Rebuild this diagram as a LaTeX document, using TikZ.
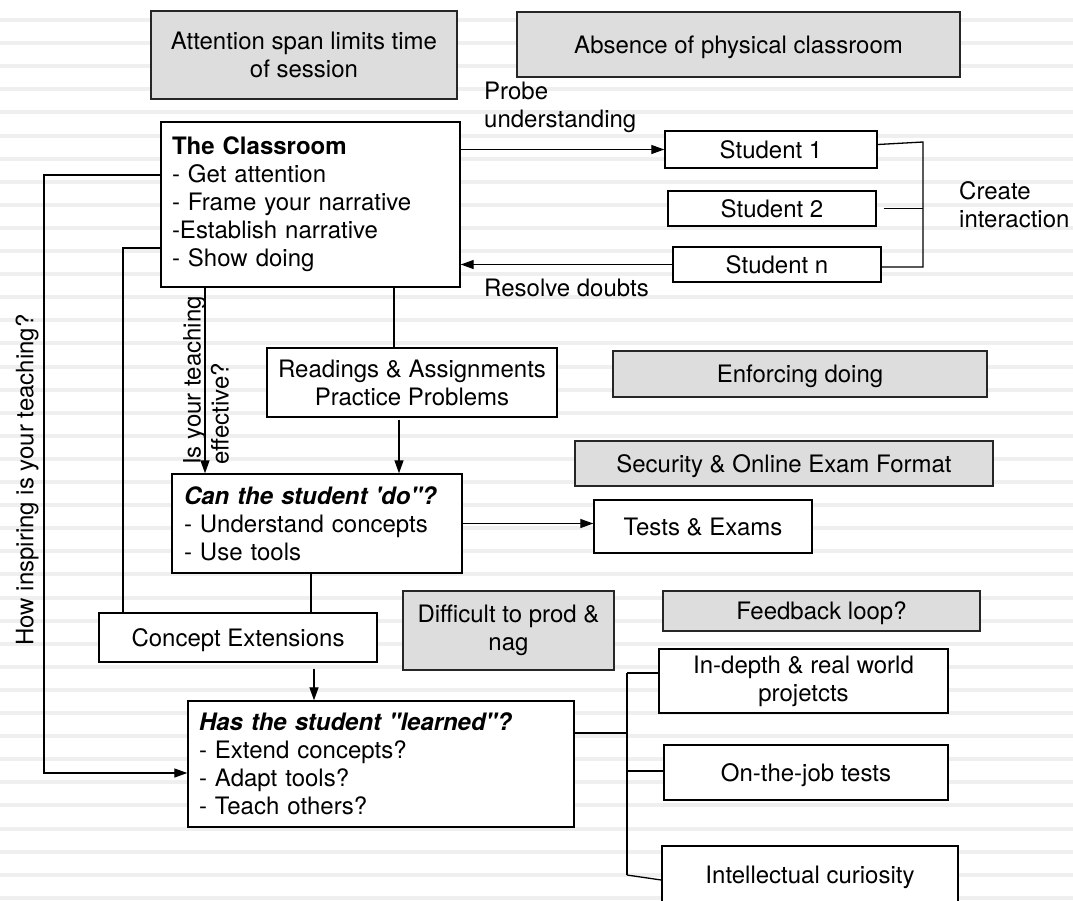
\documentclass[tikz,border=0pt]{standalone}
\usepackage{fontspec}
\setmainfont{TeX Gyre Heros}[Ligatures=TeXOff]
\usetikzlibrary{arrows.meta,calc}
\definecolor{boxgray}{HTML}{DDDDDD}
\definecolor{stripecol}{HTML}{EFEFEF}
\newcommand{\sq}{\symbol{39}}
\newcommand{\dq}{\symbol{34}}
\begin{document}
\begin{tikzpicture}[x=1pt,y=-1pt,
  every node/.style={font=\fontsize{24}{28}\selectfont, text=black},
  wbox/.style={draw=black, line width=1.4pt, fill=white, rectangle, inner sep=0pt},
  gbox/.style={draw=black!85, line width=1.4pt, fill=boxgray, rectangle, inner sep=0pt, align=center},
  sl/.style={text height=19pt, text depth=2pt},
  conn/.style={line width=1.3pt, draw=black},
  arr/.style={conn, -{Triangle[length=13pt,width=9pt]}},
  lbl/.style={inner sep=0pt, align=left}
]
\clip (0,0) rectangle (1073,900);
\fill[white] (0,0) rectangle (1073,900);
\foreach \k in {0,...,38}
  \draw[stripecol, line width=4pt] (0,{20+23.1*\k}) -- (1073,{20+23.1*\k});

% grey boxes
\node[gbox, minimum width=306pt, minimum height=88pt] (att) at (304,55) {Attention span limits time\\of session};
\node[gbox, sl, minimum width=443pt, minimum height=65pt] (abs) at (738.5,44.5) {Absence of physical classroom};
\node[gbox, sl, minimum width=374pt, minimum height=46pt] (enf) at (800,374) {Enforcing doing};
\node[gbox, sl, minimum width=418pt, minimum height=45pt] (sec) at (784,463.5) {Security \& Online Exam Format};
\node[gbox, minimum width=211pt, minimum height=79pt] (dif) at (508.5,630.5) {Difficult to prod \&\\nag};
\node[gbox, sl, minimum width=317pt, minimum height=40pt] (fb) at (821.5,611) {Feedback loop?};

% white boxes
\node[wbox, minimum width=299pt, minimum height=165pt, text width=277pt, align=left] (cls) at (310.5,204.5)
  {\textbf{The Classroom}\\- Get attention\\- Frame your narrative\\-Establish narrative\\- Show doing};
\node[wbox, sl, minimum width=212pt, minimum height=37pt] (s1) at (771,149.5) {Student 1};
\node[wbox, sl, minimum width=208pt, minimum height=35pt] (s2) at (772,208.5) {Student 2};
\node[wbox, sl, minimum width=208pt, minimum height=35pt] (sn) at (777,264.5) {Student n};
\node[wbox, minimum width=290pt, minimum height=69pt, align=center] (rd) at (412,382.5) {Readings \& Assignments\\Practice Problems};
\node[wbox, minimum width=290pt, minimum height=99pt, text width=266pt, align=left] (cdo) at (317,523.5)
  {\textbf{\textit{Can the student \sq do\dq?}}\\- Understand concepts\\- Use tools};
\node[wbox, sl, minimum width=218pt, minimum height=53pt] (tst) at (703,526.5) {Tests \& Exams};
\node[wbox, sl, minimum width=278pt, minimum height=49pt] (cext) at (238,637.5) {Concept Extensions};
\node[wbox, minimum width=386pt, minimum height=126pt, text width=364pt, align=left] (lrn) at (381,764)
  {\textbf{\textit{Has the student \dq learned\dq?}}\\- Extend concepts?\\- Adapt tools?\\- Teach others?};
\node[wbox, minimum width=289pt, minimum height=64pt, align=center] (ind) at (803.5,681) {In-depth \& real world\\projetcts};
\node[wbox, sl, minimum width=284pt, minimum height=55pt] (otj) at (806,772.5) {On-the-job tests};
\node[wbox, sl, minimum width=296pt, minimum height=58pt] (ic) at (810,875) {Intellectual curiosity};

% labels
\node[lbl, anchor=west] (probe) at (484,107) {Probe\\understanding};
\node[lbl, anchor=west] (ci) at (959,205) {Create\\interaction};
\node[lbl, anchor=west, sl] (rsd) at (484,288) {Resolve doubts};
\node[lbl, rotate=90] (hi) at (27,480) {How inspiring is your teaching?};
\node[lbl, rotate=90, anchor=north west] (eff) at (183,465) {Is your teaching\\effective?};

% helper coordinates
\coordinate (xR) at (394,0);
\coordinate (xR2) at (399,0);
\coordinate (xE) at (205,0);
\coordinate (xC) at (311,0);
\coordinate (xD) at (314,0);
\coordinate (br1) at (923,142);
\coordinate (br2) at (923,267);
\coordinate (l1) at (123,248);
\coordinate (l2) at (44,175);
\coordinate (l3) at (44,773);
\coordinate (rm) at (628,733);
\coordinate (r1) at (627,673);
\coordinate (r2) at (627,875);
\coordinate (r3) at (627,771);

% connectors
\draw[arr] (cls.east |- s1.west) -- (s1.west);
\draw[arr] (sn.west) -- (sn.west -| cls.east);
\draw[conn] ([yshift=5pt]s1.east) -- (br1) -- (br2) -- ([yshift=-2.5pt]sn.east);
\draw[conn] ([xshift=7pt]s2.east) -- (s2.east -| br1);
\draw[conn] (cls.south -| xR) -- (rd.north -| xR);
\draw[arr] ($(rd.south -| xR2)+(0,2)$) -- (cdo.north -| xR2);
\draw[arr] (cls.south -| xE) -- (cdo.north -| xE);
\draw[arr] (cdo.east) -- (tst.west |- cdo.east);
\draw[conn] (cdo.south -| xC) -- (cext.north -| xC);
\draw[conn] (l1 -| cls.west) -- (l1) -- (cext.north -| l1);
\draw[arr] (l2 -| cls.west) -- (l2) -- (l3) -- (l3 -| lrn.west);
\draw[arr] ($(cext.south -| xD)+(0,6)$) -- (lrn.north -| xD);
\draw[conn] (rm -| lrn.east) -- (rm);
\draw[conn] (r1) -- (r2);
\draw[conn] (r1) -- (ind.west |- r1);
\draw[conn] (r3) -- (otj.west |- r3);
\draw[conn] (r2) -- ([yshift=-5pt]ic.west);
\end{tikzpicture}
\end{document}
